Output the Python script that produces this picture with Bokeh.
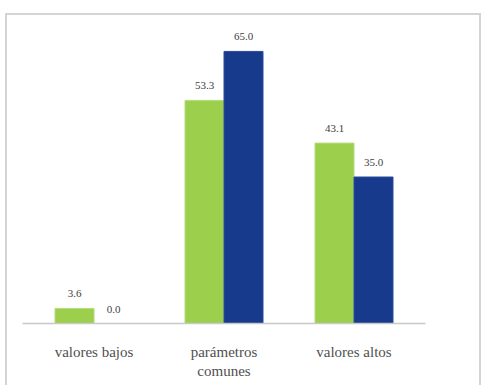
from bokeh.plotting import figure
from bokeh.models import FactorRange, ColumnDataSource, LabelSet
from bokeh.transform import dodge
from bokeh.embed import file_html
from bokeh.resources import INLINE

categories = ["valores bajos", "parámetros\ncomunes", "valores altos"]
green_values = [3.6, 53.3, 43.1]
blue_values = [0.0, 65.0, 35.0]
green_labels = ["3.6", "53.3", "43.1"]
blue_labels = ["0.0", "65.0", "35.0"]

GREEN = "#9ccf4c"
BLUE = "#173a8c"
SERIF = "Times New Roman"

src = ColumnDataSource(dict(cat=categories, g=green_values, b=blue_values,
                            gl=green_labels, bl=blue_labels))

xr = FactorRange(*categories, range_padding=0.05, range_padding_units="absolute")
p = figure(x_range=xr, y_range=(0, 70), width=485, height=385,
           output_backend="svg", toolbar_location=None,
           min_border_left=22, min_border_right=60, min_border_top=30, min_border_bottom=62)

p.vbar(x=dodge("cat", -0.15, range=p.x_range), top="g", width=0.3, source=src,
       fill_color=GREEN, line_color="#b5dc7c")
p.vbar(x=dodge("cat", 0.15, range=p.x_range), top="b", width=0.3, source=src,
       fill_color=BLUE, line_color="#2a4a9a")

common = dict(source=src, y_offset=11, text_align="center", text_baseline="bottom",
              text_font="DejaVu Serif", text_font_size="11px", text_color="#404040")
p.add_layout(LabelSet(x=dodge("cat", -0.15, range=p.x_range), y="g", text="gl", **common))
p.add_layout(LabelSet(x=dodge("cat", 0.15, range=p.x_range), y="b", text="bl", **common))

p.yaxis.visible = False
p.xgrid.visible = False
p.ygrid.visible = False
p.outline_line_color = None
p.background_fill_color = None
p.border_fill_color = None
p.xaxis.axis_line_color = "#c8c8c8"
p.xaxis.axis_line_width = 1.5
p.xaxis.major_tick_line_color = None
p.xaxis.minor_tick_line_color = None
p.xaxis.major_label_standoff = 14
p.xaxis.major_label_text_font = SERIF
p.xaxis.major_label_text_font_size = "15px"
p.xaxis.major_label_text_color = "#505050"

g = "linear-gradient(#d4d4d4, #d4d4d4)"
p.styles = {
    "background": (f"{g} 5px 13px / 476px 2px no-repeat, "
                   f"{g} 5px 13px / 2px 380px no-repeat, "
                   f"{g} 479px 13px / 2px 380px no-repeat, white"),
}

open("out.html", "w").write(file_html(p, INLINE))
